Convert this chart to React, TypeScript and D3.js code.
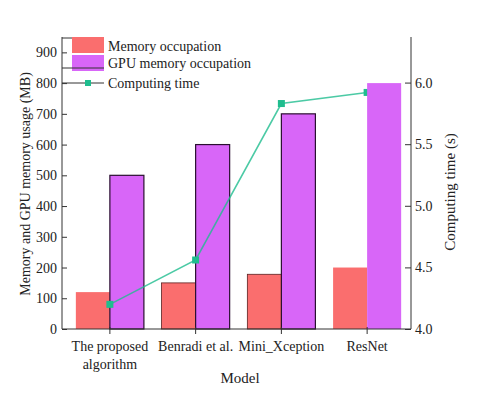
import React, { useEffect, useRef } from 'react';
import * as d3 from 'd3';

const models = ['The proposed|algorithm', 'Benradi et al.', 'Mini_Xception', 'ResNet'];
const memoryMB = [120, 150, 178, 200];
const gpuMB = [500, 600, 700, 800];
const timeSec = [4.2, 4.56, 5.83, 5.92];
const leftTicks = [0, 100, 200, 300, 400, 500, 600, 700, 800, 900];
const rightTicks = [4.0, 4.5, 5.0, 5.5, 6.0];

const RED = '#fa6e6e';
const PURPLE = '#d866f8';
const GREEN = '#1fbd8e';
const INK = '#333';
const FONT = '"Liberation Serif", "Times New Roman", serif';

export default function App() {
  const ref = useRef<SVGSVGElement>(null);

  useEffect(() => {
    const svg = d3.select(ref.current);
    svg.selectAll('*').remove();
    const m = { l: 62, r: 411, t: 37, b: 329 };

    const x = d3.scaleBand().domain(models).range([67, 410]);
    const sub = d3.scaleBand().domain(['mem', 'gpu']).range([0, x.bandwidth()]).paddingOuter(0.26);
    const yL = d3.scaleLinear().domain([0, 950]).range([m.b, m.t]);
    const yR = d3.scaleLinear().domain([4, 6.37]).range([m.b, m.t]);

    const rows = models.map((k, i) => ({ k, i, mem: memoryMB[i], gpu: gpuMB[i], t: timeSec[i] }));
    const last = rows.length - 1;

    const drawBars = (g, data) => {
      g.selectAll('rect.mem')
        .data(data)
        .join('rect')
        .attr('class', 'mem')
        .attr('x', (d) => x(d.k) + sub('mem'))
        .attr('y', (d) => yL(d.mem))
        .attr('width', sub.bandwidth())
        .attr('height', (d) => m.b - yL(d.mem))
        .attr('fill', RED)
        .attr('stroke', (d) => (d.i === 1 || d.i === 2 ? '#5a2020' : 'none'))
        .attr('stroke-width', 0.8);
      g.selectAll('rect.gpu')
        .data(data)
        .join('rect')
        .attr('class', 'gpu')
        .attr('x', (d) => x(d.k) + sub('gpu'))
        .attr('y', (d) => yL(d.gpu))
        .attr('width', sub.bandwidth())
        .attr('height', (d) => m.b - yL(d.gpu))
        .attr('fill', PURPLE)
        .attr('stroke', (d) => (d.i === last ? 'none' : '#2a0f30'))
        .attr('stroke-width', 1.2);
    };

    drawBars(svg.append('g'), rows.filter((d) => d.i !== last));

    // computing time line, right axis
    const line = d3
      .line()
      .x((d) => x(d.k) + x.bandwidth() / 2)
      .y((d) => yR(d.t));
    svg.append('path').datum(rows).attr('d', line).attr('fill', 'none').attr('stroke', GREEN).attr('stroke-width', 1.6).attr('opacity', 0.8);
    svg.selectAll('rect.pt')
      .data(rows)
      .join('rect')
      .attr('class', 'pt')
      .attr('x', (d) => x(d.k) + x.bandwidth() / 2 - 3.5)
      .attr('y', (d) => yR(d.t) - 3.5)
      .attr('width', 7)
      .attr('height', 7)
      .attr('fill', GREEN);

    // ResNet bars sit over the end of the line
    drawBars(svg.append('g'), rows.filter((d) => d.i === last));

    // axes
    const gl = svg.append('g').attr('transform', `translate(${m.l},0)`).call(d3.axisRight(yL).tickValues(leftTicks).tickSize(5).tickFormat(d3.format('d')));
    gl.selectAll('text').attr('x', -5).attr('text-anchor', 'end');
    const gr = svg.append('g').attr('transform', `translate(${m.r},0)`).call(d3.axisLeft(yR).tickValues(rightTicks).tickSize(6).tickFormat(d3.format('.1f')));
    gr.selectAll('text').attr('x', 4).attr('text-anchor', 'start');
    const gb = svg.append('g').attr('transform', `translate(0,${m.b})`).call(d3.axisBottom(x).tickSize(5).tickFormat(() => ''));
    gb.select('.domain').attr('d', `M${m.l},0H${m.r}`);
    gb.selectAll('.tick line').attr('y1', -2);
    [gl, gr, gb].forEach((g) => {
      g.selectAll('.domain,.tick line').attr('stroke', INK);
      g.selectAll('text').attr('font-family', FONT).attr('font-size', 14).attr('fill', '#222');
    });
    gl.select('.domain').attr('d', `M0,${m.b}V${m.t}`);
    gr.select('.domain').attr('d', `M0,${m.b}V${m.t}`);

    gb.selectAll('.tick').each(function (d) {
      const t = d3.select(this).append('text').attr('font-family', FONT).attr('font-size', 14).attr('fill', '#222').attr('text-anchor', 'middle');
      String(d).split('|').forEach((s, j) => t.append('tspan').attr('x', 0).attr('y', 22 + j * 18).text(s));
    });

    svg.append('text').attr('x', 240).attr('y', 383).attr('text-anchor', 'middle').attr('font-family', FONT).attr('font-size', 15).attr('fill', '#222').text('Model');
    svg.append('text').attr('transform', 'translate(30,184) rotate(-90)').attr('text-anchor', 'middle').attr('font-family', FONT).attr('font-size', 14).attr('fill', '#222').text('Memory and GPU memory usage (MB)');
    svg.append('text').attr('transform', 'translate(455,192) rotate(-90)').attr('text-anchor', 'middle').attr('font-family', FONT).attr('font-size', 15).attr('fill', '#222').text('Computing time (s)');

    // legend
    const lg = svg.append('g');
    const items = ['Memory occupation', 'GPU memory occupation', 'Computing time'];
    lg.append('line').attr('x1', m.l).attr('x2', 104).attr('y1', 38).attr('y2', 38).attr('stroke', INK);
    lg.append('rect').attr('x', 72).attr('y', 37).attr('width', 32).attr('height', 16).attr('fill', RED);
    lg.append('rect').attr('x', 72).attr('y', 55).attr('width', 32).attr('height', 16).attr('fill', PURPLE);
    lg.append('line').attr('x1', m.l).attr('x2', 104).attr('y1', 68).attr('y2', 68).attr('stroke', INK);
    lg.append('line').attr('x1', m.l).attr('x2', 104).attr('y1', 83).attr('y2', 83).attr('stroke', INK);
    lg.append('rect').attr('x', 85).attr('y', 80).attr('width', 6).attr('height', 6).attr('fill', GREEN);
    lg.selectAll('text.lt')
      .data(items)
      .join('text')
      .attr('class', 'lt')
      .attr('x', 108)
      .attr('y', (d, i) => [51, 68, 88][i])
      .attr('font-family', FONT)
      .attr('font-size', 14)
      .attr('fill', '#222')
      .text((d) => d);
  }, []);

  return <svg ref={ref} width={492} height={395} style={{ position: 'absolute', left: 0, top: 0, background: '#fff' }} />;
}
